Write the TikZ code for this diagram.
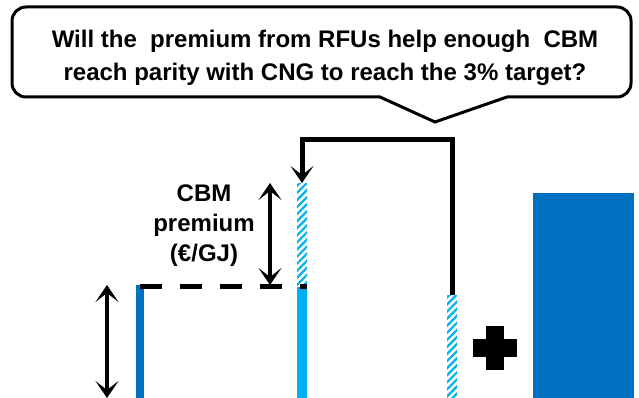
\documentclass[tikz,border=0pt]{standalone}
\usepackage{fontspec}
\setmainfont{Liberation Sans}
\usetikzlibrary{arrows.meta,patterns.meta}
\definecolor{darkblue}{HTML}{0070C0}
\definecolor{lightblue}{HTML}{00B0F0}

\begin{document}
\begin{tikzpicture}[x=1pt, y=-1pt, line width=3pt,
  dbl/.style={{Stealth[length=17pt,width=23pt,inset=9pt,line width=2.5pt]}-{Stealth[length=17pt,width=23pt,inset=9pt,line width=2.5pt]}, line width=4.5pt},
  conn/.style={-{Stealth[length=17pt,width=23pt,inset=9pt,line width=2.5pt]}, line width=5pt},
  hatch/.style={pattern={Lines[angle=45,distance=5pt,line width=2.2pt]}, pattern color=lightblue},
  lbl/.style={font=\fontsize{24}{30}\selectfont\bfseries, align=center}]
  \useasboundingbox (0,0) rectangle (639,398);

  % ---------- callout ----------
  \draw (435,122) -- (507,97) [rounded corners=14pt] -- (631,97) -- (631,7)
        -- (12,7) -- (12,97) [sharp corners] -- (380,97) -- cycle;
  \node[lbl, font=\fontsize{24}{33}\selectfont\bfseries] (question) at (325,57.5)
    {Will the\ \ premium from RFUs help enough\ \ CBM\\reach parity with CNG to reach the 3\% target?};

  % ---------- bars ----------
  \fill[darkblue] (136,285) rectangle (144,398);
  \fill[lightblue] (297,287) rectangle (307,398);
  \path[hatch] (297,183) rectangle (307,287);
  \path[hatch] (447,295) rectangle (457,398);
  \fill[darkblue] (533,193) rectangle (634,398);

  % plus sign
  \fill (486,326) rectangle (504,370);
  \fill (473,339) rectangle (517,357);

  % ---------- levels ----------
  \coordinate (cng) at (140,286);
  \coordinate (cbm) at (307,286);
  \draw[line width=5pt, dash pattern=on 22pt off 18pt] (cng) -- (cbm);

  \coordinate (base top) at (107,285);
  \coordinate (base bot) at (107,398);
  \draw[dbl] (base bot) -- (base top);

  \coordinate (prem top) at (270,183);
  \coordinate (prem bot) at (270,285);
  \draw[dbl] (prem bot) -- (prem top);
  \node[lbl] (premium) at (204,226) {CBM\\premium\\(€/GJ)};

  % ---------- RFU premium -> CBM ----------
  \coordinate (rfu) at (452,295);
  \coordinate (bend) at (302,140);
  \coordinate (target) at (302,183);
  \draw[conn] (rfu) |- (bend) -- (target);
\end{tikzpicture}
\end{document}
